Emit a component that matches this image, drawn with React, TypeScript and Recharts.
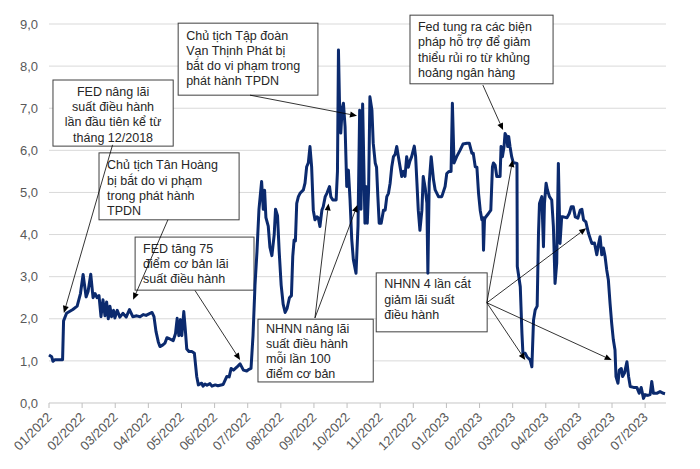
import React from 'react';
import { LineChart, Line, XAxis, YAxis, CartesianGrid, ReferenceArea, ReferenceLine } from 'recharts';

// tick labels for the month axis
const monthLabels = [
  '01/2022', '02/2022', '03/2022', '04/2022', '05/2022', '06/2022', '07/2022', '08/2022', '09/2022',
  '10/2022', '11/2022', '12/2022', '01/2023', '02/2023', '03/2023', '04/2023', '05/2023', '06/2023', '07/2023',
];
const monthTicks = monthLabels.map((_, i) => i);
const yTicks = [0, 1, 2, 3, 4, 5, 6, 7, 8, 9];

// position in months since 01/2022
const monthPos = [
  0.00, 0.08, 0.12, 0.18, 0.41, 0.44, 0.53, 0.72, 0.85, 0.95, 1.03, 1.12, 1.18, 1.26, 1.33, 1.39, 1.45, 1.51,
  1.57, 1.63, 1.69, 1.74, 1.79, 1.84, 1.89, 1.95, 1.99, 2.06, 2.14, 2.23, 2.33, 2.43, 2.53, 2.65, 2.75, 2.85,
  2.93, 3.05, 3.11, 3.17, 3.23, 3.30, 3.35, 3.44, 3.50, 3.56, 3.65, 3.75, 3.82, 3.87, 3.92, 3.97, 4.01, 4.07,
  4.11, 4.16, 4.23, 4.32, 4.39, 4.46, 4.51, 4.61, 4.65, 4.71, 4.77, 4.86, 4.92, 5.02, 5.10, 5.26, 5.37, 5.44,
  5.50, 5.57, 5.67, 5.77, 5.87, 5.97, 6.04, 6.10, 6.16, 6.22, 6.28, 6.34, 6.42, 6.47, 6.51, 6.55, 6.62, 6.67,
  6.73, 6.80, 6.84, 6.90, 6.95, 7.01, 7.07, 7.13, 7.19, 7.26, 7.32, 7.36, 7.40, 7.44, 7.48, 7.53, 7.58, 7.68,
  7.73, 7.78, 7.83, 7.88, 7.93, 7.98, 8.03, 8.09, 8.13, 8.18, 8.24, 8.28, 8.34, 8.39, 8.47, 8.51, 8.57, 8.67,
  8.71, 8.74, 8.77, 8.81, 8.85, 8.89, 8.94, 8.99, 9.04, 9.09, 9.14, 9.19, 9.27, 9.33, 9.38, 9.42, 9.47, 9.51,
  9.54, 9.57, 9.61, 9.65, 9.69, 9.75, 9.79, 9.85, 9.89, 9.93, 9.97, 10.03, 10.10, 10.15, 10.20, 10.25, 10.30,
  10.35, 10.40, 10.45, 10.50, 10.55, 10.60, 10.65, 10.70, 10.75, 10.80, 10.85, 10.90, 10.95, 11.03, 11.07,
  11.11, 11.15, 11.20, 11.26, 11.30, 11.36, 11.41, 11.44, 11.48, 11.54, 11.61, 11.66, 11.76, 11.86, 11.96,
  12.01, 12.08, 12.14, 12.18, 12.23, 12.31, 12.41, 12.50, 12.62, 12.69, 12.77, 12.81, 12.87, 12.92, 12.97,
  13.02, 13.07, 13.10, 13.12, 13.15, 13.17, 13.27, 13.34, 13.39, 13.42, 13.47, 13.52, 13.62, 13.65, 13.69,
  13.74, 13.77, 13.82, 13.85, 13.88, 13.92, 13.97, 14.02, 14.07, 14.13, 14.14, 14.23, 14.28, 14.31, 14.38,
  14.43, 14.53, 14.58, 14.63, 14.68, 14.74, 14.78, 14.81, 14.88, 14.93, 14.96, 15.01, 15.05, 15.11, 15.18,
  15.23, 15.28, 15.33, 15.38, 15.43, 15.48, 15.53, 15.64, 15.71, 15.77, 15.83, 15.89, 15.97, 16.04, 16.09,
  16.14, 16.21, 16.29, 16.39, 16.47, 16.54, 16.59, 16.64, 16.69, 16.74, 16.79, 16.84, 16.89, 16.94, 16.99,
  17.04, 17.09, 17.12, 17.18, 17.22, 17.28, 17.32, 17.38, 17.45, 17.50, 17.55, 17.65, 17.75, 17.82, 17.88,
  17.95, 18.00, 18.08, 18.15, 18.20, 18.25, 18.35, 18.45, 18.55, 18.60,
];

// lãi suất (%)
const rate = [
  1.14, 1.10, 0.99, 1.03, 1.03, 1.95, 2.13, 2.22, 2.30, 2.60, 3.05, 2.52, 2.65, 3.06, 2.50, 2.60, 2.50, 2.55,
  2.05, 2.45, 2.07, 2.40, 2.00, 2.30, 2.05, 2.20, 2.02, 2.20, 2.04, 2.13, 2.04, 2.22, 2.05, 2.07, 2.05, 2.10,
  2.08, 2.13, 2.15, 2.05, 1.70, 1.45, 1.34, 1.38, 1.42, 1.55, 1.52, 1.48, 1.65, 2.01, 1.60, 1.98, 1.60, 2.17,
  1.80, 1.28, 1.22, 1.22, 1.18, 0.63, 0.43, 0.47, 0.40, 0.45, 0.42, 0.46, 0.40, 0.43, 0.41, 0.44, 0.63, 0.62,
  0.82, 0.78, 0.85, 0.93, 0.78, 0.76, 0.80, 0.82, 1.60, 2.80, 3.60, 4.60, 5.26, 4.60, 5.05, 4.40, 4.20, 3.70,
  3.50, 4.00, 4.60, 4.45, 3.60, 2.80, 2.35, 2.15, 2.25, 2.50, 2.55, 3.48, 3.87, 3.85, 4.74, 4.90, 4.98, 5.06,
  5.22, 5.61, 5.70, 6.09, 5.61, 4.58, 4.35, 4.42, 4.40, 4.19, 4.58, 4.66, 4.90, 4.98, 5.14, 4.90, 4.82, 4.82,
  5.50, 8.38, 7.20, 6.41, 6.96, 7.12, 6.56, 5.14, 5.53, 4.82, 3.90, 3.40, 3.08, 4.20, 6.95, 4.60, 7.10, 5.50,
  4.27, 5.14, 4.27, 5.06, 7.27, 6.96, 6.17, 5.70, 5.60, 4.90, 4.27, 4.27, 4.58, 4.58, 4.90, 4.98, 5.22,
  5.61, 5.85, 5.90, 6.09, 5.85, 5.61, 5.38, 5.50, 5.38, 5.85, 5.60, 5.75, 5.85, 6.10, 5.85,
  5.22, 4.58, 4.10, 4.58, 5.38, 5.10, 4.75, 3.08, 5.22, 5.85, 5.30, 5.06, 4.90, 4.90, 5.14,
  5.45, 5.50, 5.50, 7.12, 5.70, 5.85, 6.00, 6.15, 6.17, 6.17, 5.93, 5.93, 5.61, 5.60, 4.98,
  4.58, 4.35, 4.40, 3.63, 4.35, 4.40, 4.50, 4.58, 5.61, 5.70, 5.65, 5.38, 5.38, 6.09, 5.85,
  6.09, 6.40, 6.33, 6.09, 6.33, 6.09, 5.85, 5.70, 5.70, 5.69, 3.24, 2.76, 1.66, 1.18, 1.18,
  1.10, 1.02, 0.86, 1.97, 2.21, 2.30, 4.03, 4.74, 4.90, 3.71, 4.74, 5.22, 5.06, 4.90, 4.82,
  4.19, 2.84, 3.32, 5.69, 3.79, 4.42, 4.42, 4.40, 4.50, 4.66, 4.66, 4.42, 4.39, 4.58, 4.60,
  4.35, 4.30, 4.03, 3.79, 3.80, 3.52, 3.76, 3.95, 3.52, 3.68, 3.48, 3.16, 2.92, 2.37, 1.89,
  1.50, 1.26, 0.63, 0.47, 0.78, 0.82, 0.63, 0.72, 0.98, 0.63, 0.39, 0.37, 0.37, 0.23, 0.37,
  0.11, 0.20, 0.18, 0.20, 0.51, 0.23, 0.23, 0.27, 0.23, 0.22,
];

const data = monthPos.map((t, i) => ({ t, rate: rate[i] }));

const FONT = '"Liberation Sans", Arial, sans-serif';

// khung chú thích (toạ độ theo trục dữ liệu)
const notes = [
  { x1: 0.12, x2: 3.75, y1: 6.10, y2: 7.67, align: 'center', dy: 16, lines: ['FED nâng lãi', 'suất điều hành', 'lần đầu tiên kể từ', 'tháng 12/2018'] },
  { x1: 1.51, x2: 5.74, y1: 4.35, y2: 5.94, align: 'left', dy: 16.5, lines: ['Chủ tịch Tân Hoàng', 'bị bắt do vi phạm', 'trong phát hành', 'TPDN'] },
  { x1: 2.60, x2: 6.19, y1: 2.68, y2: 3.94, align: 'left', dy: 16, lines: ['FED tăng 75', 'điểm cơ bản lãi', 'suất điều hành'] },
  { x1: 3.90, x2: 8.12, y1: 7.31, y2: 9.02, align: 'left', dy: 16.5, lines: ['Chủ tịch Tập đoàn', 'Vạn Thịnh Phát bị', 'bắt do vi phạm trong', 'phát hành TPDN'] },
  { x1: 10.90, x2: 15.22, y1: 7.58, y2: 9.21, align: 'left', dy: 16, lines: ['Fed tung ra các biện', 'pháp hỗ trợ để giảm', 'thiểu rủi ro từ khủng', 'hoảng ngân hàng'] },
  { x1: 6.31, x2: 9.79, y1: 0.50, y2: 1.99, align: 'left', dy: 13.5, lines: ['NHNN nâng lãi', 'suất điều hành', 'mỗi lần 100', 'điểm cơ bản'] },
  { x1: 9.88, x2: 13.23, y1: 1.69, y2: 3.09, align: 'left', dy: 15.5, lines: ['NHNN 4 lần cắt', 'giảm lãi suất', 'điều hành'] },
];

const arrows = [
  [1.92, 6.13, 0.45, 2.14],
  [3.59, 4.35, 2.54, 2.45],
  [4.41, 2.67, 5.77, 1.02],
  [6.07, 7.31, 9.30, 6.82],
  [13.10, 7.55, 13.71, 6.48],
  [8.03, 2.02, 8.44, 4.74],
  [8.03, 2.02, 9.31, 4.70],
  [13.22, 2.38, 14.00, 5.77],
  [13.22, 2.38, 14.38, 1.02],
  [13.22, 2.38, 16.22, 4.15],
  [13.22, 2.38, 16.99, 1.02],
];

const noteShape = (lines: string[], align: string, dy: number) => (props: any) => {
  const { x, y, width, height } = props;
  const tx = align === 'center' ? x + width / 2 : x + 8;
  return (
    <g>
      <rect x={x} y={y} width={width} height={height} fill="#fff" stroke="#404040" strokeWidth={1} />
      <text fontFamily={FONT} fontSize={12.5} fill="#262626" textAnchor={align === 'center' ? 'middle' : 'start'}>
        {lines.map((l, i) => (
          <tspan key={i} x={tx} y={y + dy + i * 15.2}>{l}</tspan>
        ))}
      </text>
    </g>
  );
};

const ArrowShape = (props: any) => {
  const { x1, y1, x2, y2 } = props;
  const a = Math.atan2(y2 - y1, x2 - x1);
  const len = 7;
  const w = 3;
  const bx = x2 - len * Math.cos(a);
  const by = y2 - len * Math.sin(a);
  const p1 = `${bx + w * Math.sin(a)},${by - w * Math.cos(a)}`;
  const p2 = `${bx - w * Math.sin(a)},${by + w * Math.cos(a)}`;
  return (
    <g>
      <line x1={x1} y1={y1} x2={bx} y2={by} stroke="#000" strokeWidth={0.8} />
      <polygon points={`${x2},${y2} ${p1} ${p2}`} fill="#000" />
    </g>
  );
};

const MonthTick = (props: any) => {
  const { x, y, payload } = props;
  return (
    <text
      x={x + 3.5}
      y={y + 8}
      transform={`rotate(-45, ${x + 3.5}, ${y + 8})`}
      textAnchor="end"
      fontFamily={FONT}
      fontSize={13}
      fill="#595959"
    >
      {monthLabels[payload.value]}
    </text>
  );
};

export default function App() {
  return (
    <div style={{ position: 'absolute', left: 0, top: 0, width: 700, height: 469, background: '#fff' }}>
      <LineChart width={700} height={469} data={data} margin={{ top: 24, right: 34, left: 9, bottom: 6 }}>
        <CartesianGrid vertical={false} stroke="#d9d9d9" />
        <XAxis
          type="number"
          dataKey="t"
          domain={[0, 18.63]}
          ticks={monthTicks}
          interval={0}
          height={60}
          axisLine={{ stroke: '#d9d9d9' }}
          tickLine={{ stroke: '#bfbfbf' }}
          tickSize={5}
          tick={<MonthTick />}
        />
        <YAxis
          domain={[0, 9]}
          ticks={yTicks}
          width={40}
          axisLine={false}
          tickLine={false}
          tickMargin={5}
          tick={{ fontFamily: FONT, fontSize: 13, fill: '#595959' }}
          tickFormatter={(v: number) => v.toFixed(1).replace('.', ',')}
        />
        <Line
          type="linear"
          dataKey="rate"
          stroke="#0b2a6e"
          strokeWidth={3}
          strokeLinejoin="round"
          dot={false}
          isAnimationActive={false}
        />
        {notes.map((n, i) => (
          <ReferenceArea
            key={`n${i}`}
            x1={n.x1}
            x2={n.x2}
            y1={n.y1}
            y2={n.y2}
            ifOverflow="visible"
            shape={noteShape(n.lines, n.align, n.dy)}
          />
        ))}
        {arrows.map((a, i) => (
          <ReferenceLine
            key={`a${i}`}
            segment={[{ x: a[0], y: a[1] }, { x: a[2], y: a[3] }]}
            ifOverflow="visible"
            shape={ArrowShape}
          />
        ))}
      </LineChart>
    </div>
  );
}
